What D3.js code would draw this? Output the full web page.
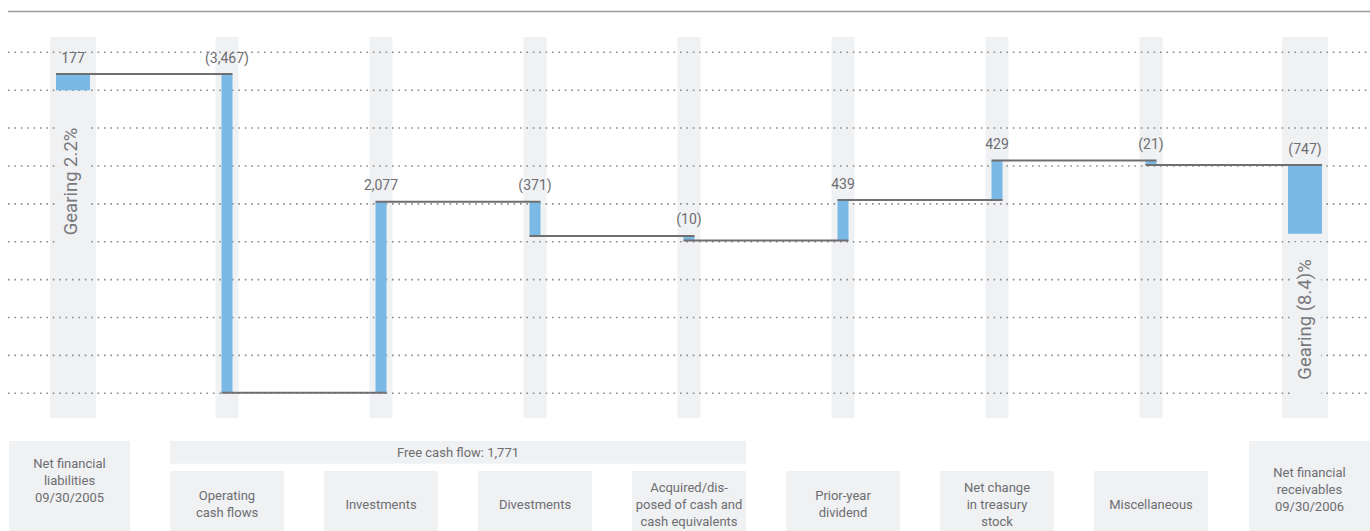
<!DOCTYPE html>
<html>
<head>
<meta charset="utf-8">
<script src="https://cdn.jsdelivr.net/npm/d3@7"></script>
<style>
  body { margin: 0; background: #fff; }
  svg { display: block; font-family: Roboto, "Open Sans", sans-serif; }
</style>
</head>
<body>
<div id="chart"></div>
<script>
// change in net financial position (negative = reduces net debt)
const steps = ["start", "ocf", "investments", "divestments", "acquired", "dividend", "treasury", "misc", "end"];
const values = [177, -3467, 2077, -371, -10, 439, 429, -21, -747];
const boxLabels = [
    ["Net financial", "liabilities", "09/30/2005"],
    ["Operating", "cash flows"],
    ["Investments"],
    ["Divestments"],
    ["Acquired/dis-", "posed of cash and", "cash equivalents"],
    ["Prior-year", "dividend"],
    ["Net change", "in treasury", "stock"],
    ["Miscellaneous"],
    ["Net financial", "receivables", "09/30/2006"]
];
const gearingLabels = ["Gearing 2.2%", "Gearing (8.4)%"];
const freeCashFlowLabel = "Free cash flow: 1,771";
const freeCashFlowSteps = ["ocf", "acquired"];

const W = 1370, H = 531;
const textColor = "#6d6e71";
const bandColor = "#f0f1f3";
const barColor = "#7ab9e5";
const lineColor = "#6f6f71";

const svg = d3.select("#chart").append("svg")
    .attr("width", W)
    .attr("height", H);

const x = d3.scalePoint()
    .domain(steps)
    .range([73, 1305]);

// level -> pixel
const y = d3.scaleLinear()
    .domain([177, -3290])
    .range([74, 392.8]);

const len = v => Math.abs(y(0) - y(v));
const minH = 4.5;
const fmt = d3.format(",");
const label = v => v < 0 ? "(" + fmt(-v) + ")" : fmt(v);

// waterfall geometry in pixels
let pos = y(values[0]);
const bars = [];
values.forEach((v, i) => {
    const isEnd = i === 0 || i === values.length - 1;
    let top, bottom, next;
    if (isEnd) {
        top = pos;
        bottom = pos + len(v);
        next = pos;
    } else {
        const dy = (v < 0 ? 1 : -1) * Math.max(minH, len(v));
        next = pos + dy;
        top = Math.min(pos, next);
        bottom = Math.max(pos, next);
    }
    bars.push({step: steps[i], value: v, isEnd, top, bottom, level: next,
        bw: isEnd ? 34 : 11, band: isEnd ? 46 : 23});
    pos = next;
});

// top rule
svg.append("line")
    .attr("x1", 8).attr("x2", W)
    .attr("y1", 11.5).attr("y2", 11.5)
    .attr("stroke", "#9b9b9b")
    .attr("stroke-width", 1.5);

// column bands
svg.selectAll(".band")
    .data(bars)
    .join("rect")
    .attr("class", "band")
    .attr("x", d => x(d.step) - d.band / 2)
    .attr("width", d => d.band)
    .attr("y", 37)
    .attr("height", 381)
    .attr("fill", bandColor);

// dotted grid
const gridValues = d3.range(10).map(k => 413 - k * 412);
svg.selectAll(".grid")
    .data(gridValues)
    .join("line")
    .attr("class", "grid")
    .attr("x1", 8).attr("x2", W)
    .attr("y1", d => y(d)).attr("y2", d => y(d))
    .attr("stroke", "#8a8a8a")
    .attr("stroke-width", 1.6)
    .attr("stroke-dasharray", "1.6 4.8");

// gearing labels (rotated) with band-coloured backing
const gearing = [
    {text: gearingLabels[0], bx: 77, cy: 181.5},
    {text: gearingLabels[1], bx: 1311, cy: 319.5}
];
const gBack = svg.append("g");
const gText = svg.append("g");
gearing.forEach(g => {
    const t = gText.append("text")
        .attr("transform", "translate(" + g.bx + "," + g.cy + ") rotate(-90)")
        .attr("text-anchor", "middle")
        .attr("font-size", 18.5)
        .attr("fill", "#77787b")
        .text(g.text);
    const tl = t.node().getComputedTextLength();
    gBack.append("rect")
        .attr("x", g.bx - 19)
        .attr("width", 29)
        .attr("y", g.cy - tl / 2 - 17)
        .attr("height", tl + 34)
        .attr("fill", bandColor);
});

// bars
svg.selectAll(".bar")
    .data(bars)
    .join("rect")
    .attr("class", "bar")
    .attr("x", d => x(d.step) - d.bw / 2)
    .attr("width", d => d.bw)
    .attr("y", d => d.top)
    .attr("height", d => d.bottom - d.top)
    .attr("fill", barColor);

// connectors: from left edge of bar i to right edge of bar i+1
svg.selectAll(".conn")
    .data(bars.slice(0, -1))
    .join("line")
    .attr("class", "conn")
    .attr("x1", d => x(d.step) - d.bw / 2)
    .attr("x2", (d, i) => x(bars[i + 1].step) + bars[i + 1].bw / 2)
    .attr("y1", d => d.level)
    .attr("y2", d => d.level)
    .attr("stroke", lineColor)
    .attr("stroke-width", 2);

// value labels
svg.selectAll(".val")
    .data(bars)
    .join("text")
    .attr("class", "val")
    .attr("x", d => x(d.step))
    .attr("y", d => d.top - 11.5)
    .attr("text-anchor", "middle")
    .attr("font-size", 14)
    .attr("fill", textColor)
    .text(d => label(d.value));

// category boxes
const boxes = steps.map((s, i) => {
    if (i === 0) return {cx: x(s) - 3.5, w: 121, top: 441, mid: 480, lines: boxLabels[i]};
    if (i === steps.length - 1) return {cx: x(s) + 4.5, w: 121, top: 441, mid: 489, lines: boxLabels[i]};
    return {cx: x(s), w: 114, top: 471, mid: 504, lines: boxLabels[i]};
});

svg.selectAll(".box")
    .data(boxes)
    .join("rect")
    .attr("class", "box")
    .attr("x", d => d.cx - d.w / 2)
    .attr("width", d => d.w)
    .attr("y", d => d.top)
    .attr("height", H - 0 - 0 + 10)
    .attr("fill", bandColor);

const lh = 17;
boxes.forEach(b => {
    const t = svg.append("text")
        .attr("text-anchor", "middle")
        .attr("font-size", 13)
        .attr("fill", textColor);
    b.lines.forEach((ln, j) => {
        t.append("tspan")
            .attr("x", b.cx)
            .attr("y", b.mid + (j - (b.lines.length - 1) / 2) * lh + 4.6)
            .text(ln);
    });
});

// free cash flow span
const f0 = boxes[steps.indexOf(freeCashFlowSteps[0])];
const f1 = boxes[steps.indexOf(freeCashFlowSteps[1])];
const fx0 = f0.cx - f0.w / 2, fx1 = f1.cx + f1.w / 2;
svg.append("rect")
    .attr("x", fx0)
    .attr("width", fx1 - fx0)
    .attr("y", 441)
    .attr("height", 22.7)
    .attr("fill", bandColor);
svg.append("text")
    .attr("x", (fx0 + fx1) / 2)
    .attr("y", 452 + 4.6)
    .attr("text-anchor", "middle")
    .attr("font-size", 13)
    .attr("fill", textColor)
    .text(freeCashFlowLabel);
</script>
</body>
</html>
